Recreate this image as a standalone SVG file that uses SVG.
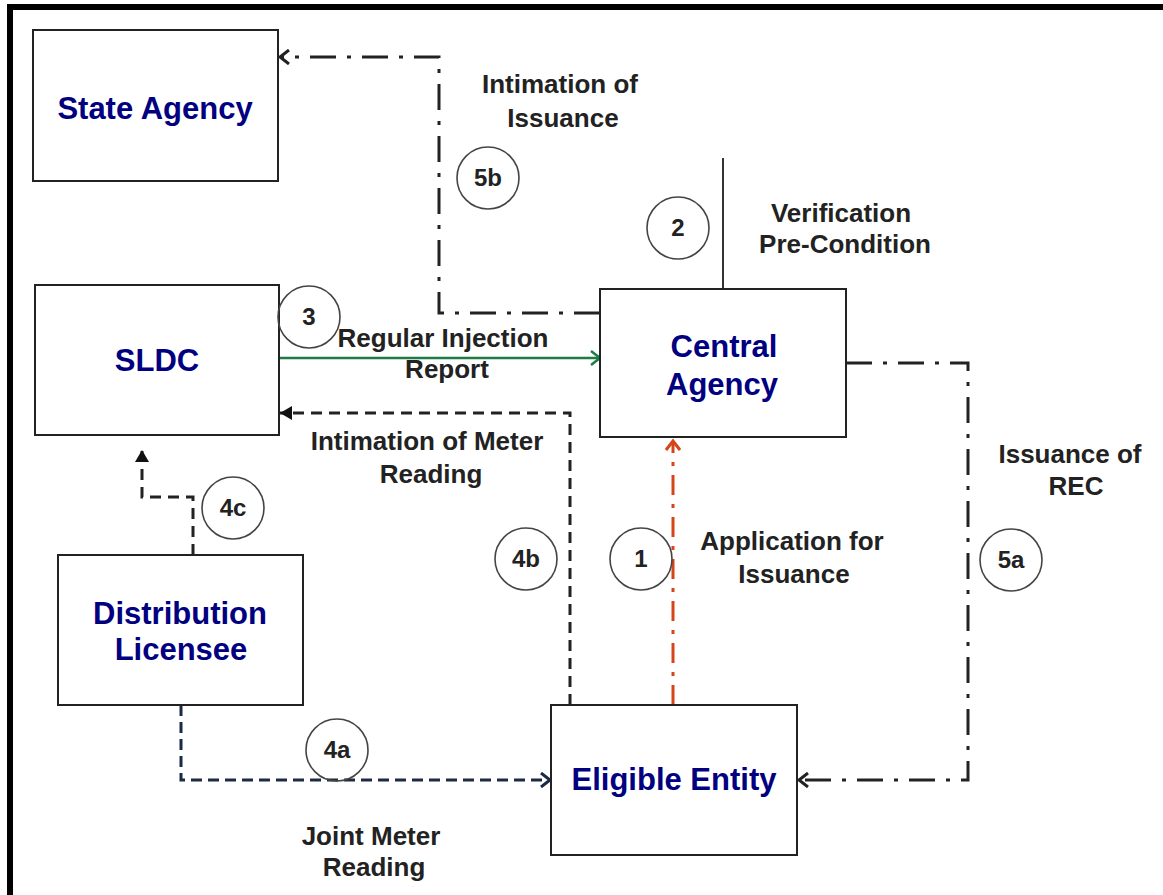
<svg xmlns="http://www.w3.org/2000/svg" width="1163" height="895" viewBox="0 0 1163 895">
<style>
.box{fill:#fff;stroke:#222;stroke-width:2}
.nt{font-family:"Liberation Sans",Arial,sans-serif;font-weight:bold;font-size:31px;fill:#000080;text-anchor:middle}
.lbl{font-family:"Liberation Sans",Arial,sans-serif;font-weight:bold;font-size:26px;fill:#222;text-anchor:middle}
.num{font-family:"Liberation Sans",Arial,sans-serif;font-weight:bold;font-size:24px;fill:#222;text-anchor:middle}
.cir{fill:none;stroke:#444;stroke-width:1.6}
.dd{fill:none;stroke:#222;stroke-width:3;stroke-dasharray:26 11 4 11}
.dash{fill:none;stroke:#222;stroke-width:3;stroke-dasharray:11 7}
</style>
<defs>
<marker id="chevK" markerUnits="userSpaceOnUse" markerWidth="14" markerHeight="16" refX="11" refY="8" orient="auto"><path d="M2,1 L11,8 L2,15" fill="none" stroke="#222" stroke-width="3"/></marker>
<marker id="chevR" markerUnits="userSpaceOnUse" markerWidth="14" markerHeight="16" refX="11" refY="8" orient="auto"><path d="M2,1 L11,8 L2,15" fill="none" stroke="#d4461a" stroke-width="3"/></marker>
<marker id="chevG" markerUnits="userSpaceOnUse" markerWidth="14" markerHeight="16" refX="11" refY="8" orient="auto"><path d="M2,1 L11,8 L2,15" fill="none" stroke="#1e7b45" stroke-width="2.5"/></marker>
<marker id="chevN" markerUnits="userSpaceOnUse" markerWidth="14" markerHeight="16" refX="11" refY="8" orient="auto"><path d="M2,1 L11,8 L2,15" fill="none" stroke="#1c2a44" stroke-width="3"/></marker>
<marker id="triK" markerUnits="userSpaceOnUse" markerWidth="14" markerHeight="14" refX="12" refY="7" orient="auto"><path d="M0,0 L12,7 L0,14 Z" fill="#111"/></marker>
</defs>
<rect width="1163" height="895" fill="#fff"/>
<path d="M10,895 V7 H1163" fill="none" stroke="#000" stroke-width="6"/>

<g id="connectors">
<path id="c1" d="M673,705 V441" fill="none" stroke="#d4461a" stroke-width="3" stroke-dasharray="20 9 4 9" marker-end="url(#chevR)"/>
<path id="c2" d="M723,158 V289" fill="none" stroke="#333" stroke-width="2"/>
<path id="c3" d="M279,358 H600" fill="none" stroke="#1e7b45" stroke-width="2.5" marker-end="url(#chevG)"/>
<path id="c4b" class="dash" d="M570,705 V413 H280" marker-end="url(#triK)"/>
<path id="c4c" class="dash" d="M193,555 V497 H142 V450" marker-end="url(#triK)"/>
<path id="c4a" d="M181,705 V780 H550" fill="none" stroke="#1c2a44" stroke-width="3" stroke-dasharray="11 6" marker-end="url(#chevN)"/>
<path id="c5a" class="dd" d="M846,363 H968 V780 H799" marker-end="url(#chevK)"/>
<path id="c5b" class="dd" d="M600,313 H439 V57 H280" marker-end="url(#chevK)"/>
</g>

<g id="state-agency"><rect class="box" x="33" y="30" width="245" height="151"/><text class="nt" x="155" y="119">State Agency</text></g>
<g id="sldc"><rect class="box" x="35" y="285" width="244" height="150"/><text class="nt" x="157" y="371">SLDC</text></g>
<g id="distribution-licensee"><rect class="box" x="58" y="555" width="245" height="150"/><text class="nt" x="180" y="624">Distribution</text><text class="nt" x="181" y="660">Licensee</text></g>
<g id="central-agency"><rect class="box" x="600" y="289" width="246" height="148"/><text class="nt" x="724" y="357">Central</text><text class="nt" x="722" y="395">Agency</text></g>
<g id="eligible-entity"><rect class="box" x="551" y="705" width="246" height="150"/><text class="nt" x="674" y="790">Eligible Entity</text></g>

<g id="labels">
<text class="lbl" x="560" y="93">Intimation of</text>
<text class="lbl" x="563" y="127">Issuance</text>
<text class="lbl" x="841" y="222">Verification</text>
<text class="lbl" x="845" y="253">Pre-Condition</text>
<text class="lbl" x="443" y="347">Regular Injection</text>
<text class="lbl" x="447" y="378">Report</text>
<text class="lbl" x="427" y="450">Intimation of Meter</text>
<text class="lbl" x="431" y="483">Reading</text>
<text class="lbl" x="792" y="550">Application for</text>
<text class="lbl" x="794" y="583">Issuance</text>
<text class="lbl" x="1070" y="463">Issuance of</text>
<text class="lbl" x="1076" y="495">REC</text>
<text class="lbl" x="371" y="845">Joint Meter</text>
<text class="lbl" x="374" y="876">Reading</text>
</g>

<g id="steps">
<circle class="cir" cx="488" cy="178" r="31"/><text class="num" x="488" y="186">5b</text>
<circle class="cir" cx="678" cy="228" r="31"/><text class="num" x="678" y="236">2</text>
<circle class="cir" cx="309" cy="317" r="31"/><text class="num" x="309" y="325">3</text>
<circle class="cir" cx="233" cy="508" r="31"/><text class="num" x="233" y="516">4c</text>
<circle class="cir" cx="526" cy="559" r="31"/><text class="num" x="526" y="567">4b</text>
<circle class="cir" cx="641" cy="559" r="31"/><text class="num" x="641" y="567">1</text>
<circle class="cir" cx="1011" cy="560" r="31"/><text class="num" x="1011" y="568">5a</text>
<circle class="cir" cx="337" cy="750" r="31"/><text class="num" x="337" y="758">4a</text>
</g>
</svg>
